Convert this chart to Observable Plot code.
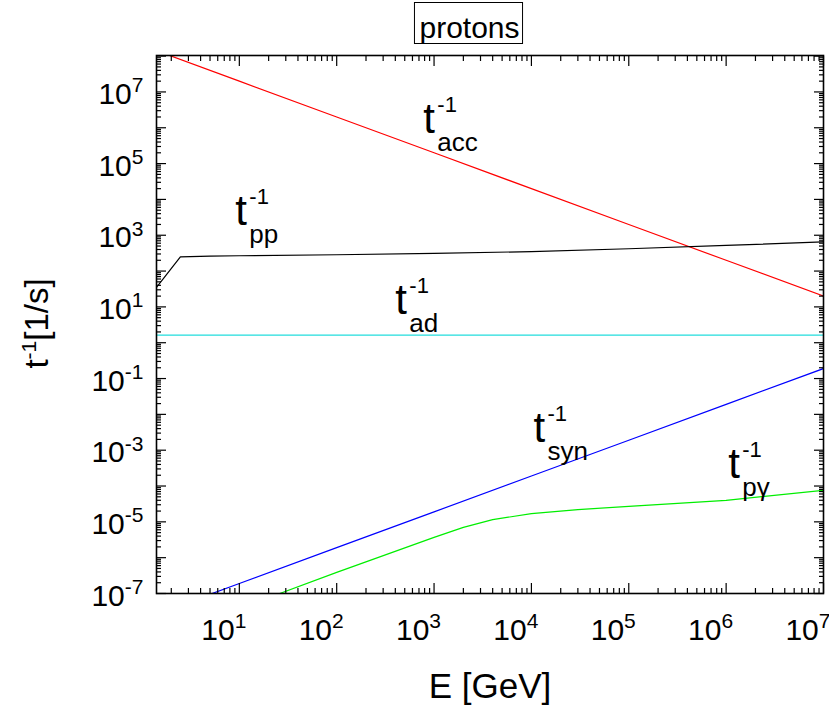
<!DOCTYPE html>
<html>
<head>
<meta charset="utf-8">
<script src="https://cdn.jsdelivr.net/npm/d3@7"></script>
<script src="https://cdn.jsdelivr.net/npm/@observablehq/plot@0.6"></script>
<style>
  html, body { margin: 0; padding: 0; background: white; }
  #chart { width: 829px; height: 707px; }
</style>
</head>
<body>
<div id="chart"></div>
<script>
// ---------- data ----------
const accE = [1.41, 10, 100, 1e3, 1e4, 1e5, 1e6, 1e7];
const accR = [1.42e8, 2e7, 2e6, 2e5, 2e4, 2e3, 200, 20];

const ppE = [1.41, 2.48, 5, 10, 100, 1e3, 1e4, 1e5, 1e6, 1e7];
const ppR = [35, 248, 262, 268, 285, 310, 350, 420, 520, 650];

const adE = [1.41, 1e7];
const adR = [1.62, 1.62];

const synE = [3, 10, 100, 1e3, 1e4, 1e5, 1e6, 1e7];
const synR = [5.7e-8, 1.9e-7, 1.9e-6, 1.9e-5, 1.9e-4, 1.9e-3, 1.9e-2, 0.19];

const pgE = [20, 26, 100, 1000, 2000, 4000, 1e4, 3e4, 1e5, 1e6, 1e7];
const pgR = [5e-8, 1e-7, 3.9e-7, 3.7e-6, 7.0e-6, 1.15e-5, 1.7e-5, 2.2e-5, 2.7e-5, 4e-5, 7.6e-5];

// curve annotations (anchor of the "t" glyph, data units)
const annSub = ["acc", "pp", "ad", "syn", "pγ"];
const annE = [776, 9.1, 400, 1.05e4, 1.05e6];
const annR = [7.04e5, 1910, 6.25, 1.67e-3, 1.66e-4];

// axis ticks and labels
const xMajor = [10, 1e2, 1e3, 1e4, 1e5, 1e6, 1e7];
const xLabels = ["10^1", "10^2", "10^3", "10^4", "10^5", "10^6", "10^7"];
const yMajor = [1e-7,1e-6,1e-5,1e-4,1e-3,1e-2,1e-1,1,10,1e2,1e3,1e4,1e5,1e6,1e7,1e8];
const yLabVals = [1e-7, 1e-5, 1e-3, 1e-1, 10, 1e3, 1e5, 1e7];
const yLabels = ["10^-7", "10^-5", "10^-3", "10^-1", "10^1", "10^3", "10^5", "10^7"];
const minorMult = [2, 3, 4, 5, 6, 7, 8, 9];

const title = "protons";
const xTitle = "E [GeV]";
const yTitle = "t^-1^[1/s]";

// ---------- build ----------
const W = 829, H = 707, mL = 156, mR = 6, mT = 55, mB = 114;
const xDomain = [1.41, 1e7], yDomain = [1e-7, 1.04e8];
const [xMin, xMax] = xDomain, [yMin, yMax] = yDomain;

const minors = (lo, hi, dmin, dmax) => {
  const out = [];
  for (let d = dmin; d <= dmax; d++) for (const m of minorMult) {
    const v = m * Math.pow(10, d);
    if (v > lo && v < hi) out.push(v);
  }
  return out;
};
const xMinor = minors(xMin, xMax, 0, 6);
const yMinor = minors(yMin, yMax, -7, 8);

const table = (E, R) => E.map((e, i) => ({E: e, r: R[i]}));
const ann = annSub.map((s, i) => ({sub: s, E: annE[i], r: annR[i]}));

const font = "'Liberation Sans', Arial, Helvetica, sans-serif";
const lw = 1.2;
const noLab = () => "";
const major = 10, minor = 5;

const svg = Plot.plot({
  width: W, height: H,
  marginLeft: mL, marginRight: mR, marginTop: mT, marginBottom: mB,
  style: {fontFamily: font, background: "white", color: "black"},
  x: {type: "log", domain: xDomain, axis: null},
  y: {type: "log", domain: yDomain, axis: null},
  marks: [
    Plot.line(table(accE, accR), {x: "E", y: "r", stroke: "#ff0000", strokeWidth: lw, clip: true}),
    Plot.line(table(ppE, ppR), {x: "E", y: "r", stroke: "#000000", strokeWidth: lw, clip: true}),
    Plot.line(table(adE, adR), {x: "E", y: "r", stroke: "#22dddd", strokeWidth: lw, clip: true}),
    Plot.line(table(synE, synR), {x: "E", y: "r", stroke: "#0000ff", strokeWidth: lw, clip: true}),
    Plot.line(table(pgE, pgR), {x: "E", y: "r", stroke: "#00ee00", strokeWidth: lw, clip: true}),

    // inward ticks on all four sides (library axis marks, negative tick size = inside)
    Plot.axisX(xMajor, {anchor: "bottom", tickSize: -major, tickFormat: noLab, label: null, stroke: "#000000", strokeWidth: 1.2}),
    Plot.axisX(xMinor, {anchor: "bottom", tickSize: -minor, tickFormat: noLab, label: null, stroke: "#000000", strokeWidth: 1.2}),
    Plot.axisX(xMajor, {anchor: "top", tickSize: -major, tickFormat: noLab, label: null, stroke: "#000000", strokeWidth: 1.2}),
    Plot.axisX(xMinor, {anchor: "top", tickSize: -minor, tickFormat: noLab, label: null, stroke: "#000000", strokeWidth: 1.2}),
    Plot.axisY(yMajor, {anchor: "left", tickSize: -major, tickFormat: noLab, label: null, stroke: "#000000", strokeWidth: 1.2}),
    Plot.axisY(yMinor, {anchor: "left", tickSize: -minor, tickFormat: noLab, label: null, stroke: "#000000", strokeWidth: 1.2}),
    Plot.axisY(yMajor, {anchor: "right", tickSize: -major, tickFormat: noLab, label: null, stroke: "#000000", strokeWidth: 1.2}),
    Plot.axisY(yMinor, {anchor: "right", tickSize: -minor, tickFormat: noLab, label: null, stroke: "#000000", strokeWidth: 1.2}),

    Plot.frame({stroke: "black", strokeWidth: 1.6}),

    // tick labels
    Plot.text(xMajor, {x: d => d, text: (d, i) => xLabels[i], frameAnchor: "bottom",
      textAnchor: "end", lineAnchor: "bottom", dx: 7, dy: 46, fontSize: 30, fill: "black"}),
    Plot.text(yLabVals, {y: d => d, text: (d, i) => yLabels[i], frameAnchor: "left",
      textAnchor: "end", lineAnchor: "bottom", dx: -13, dy: 12, fontSize: 30, fill: "black"}),

    // axis titles
    Plot.text([xTitle], {frameAnchor: "bottom", textAnchor: "middle", lineAnchor: "bottom",
      dy: 104, fontSize: 35, fill: "black"}),
    Plot.text([yTitle], {frameAnchor: "left", rotate: -90, textAnchor: "middle", lineAnchor: "bottom",
      dx: -109, dy: -1, fontSize: 33, fill: "black"}),

    // title
    Plot.text([title], {frameAnchor: "top", textAnchor: "middle", lineAnchor: "bottom",
      dx: -20.5, dy: -18, fontSize: 30, fill: "black"}),

    // curve annotations
    Plot.text(ann, {x: "E", y: "r", text: () => "t", textAnchor: "start", lineAnchor: "bottom",
      fontSize: 42, fill: "black"}),
    Plot.text(ann, {x: "E", y: "r", text: () => "-1", textAnchor: "start", lineAnchor: "bottom",
      dx: 14, dy: -21, fontSize: 22, fill: "black"}),
    Plot.text(ann, {x: "E", y: "r", text: "sub", textAnchor: "start", lineAnchor: "bottom",
      dx: 14, dy: 18, fontSize: 26, fill: "black"})
  ]
});
document.getElementById("chart").append(svg);

// ---------- superscripts as tspans ----------
const NS = "http://www.w3.org/2000/svg";
const texts = Array.from(svg.querySelectorAll("text"));
texts.forEach(t => {
  const s = t.textContent;
  if (!s.includes("^")) return;
  const parts = s.split("^");
  while (t.firstChild) t.removeChild(t.firstChild);
  parts.forEach((p, i) => {
    const ts = document.createElementNS(NS, "tspan");
    ts.textContent = p;
    if (i === 1) { ts.setAttribute("font-size", 21); ts.setAttribute("dy", s === yTitle ? -12 : -11.5); }
    if (i === 2) { ts.setAttribute("dy", 12); }
    t.appendChild(ts);
  });
});

// ---------- title box ----------
const tt = texts.find(t => t.textContent === title);
if (tt) {
  const bb = tt.getBBox();
  const rect = document.createElementNS(NS, "rect");
  rect.setAttribute("x", bb.x - 5);
  rect.setAttribute("y", bb.y - 8);
  rect.setAttribute("width", bb.width + 8);
  rect.setAttribute("height", bb.height + 8);
  rect.setAttribute("fill", "none");
  rect.setAttribute("stroke", "black");
  rect.setAttribute("stroke-width", 1);
  const tr = tt.getAttribute("transform");
  if (tr) rect.setAttribute("transform", tr);
  tt.parentNode.insertBefore(rect, tt);
}
</script>
</body>
</html>
